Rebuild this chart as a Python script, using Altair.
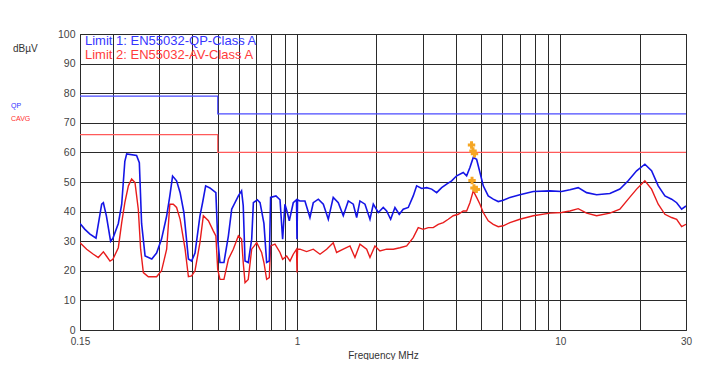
import altair as alt
import pandas as pd

# ---- QP trace (blue) ----
qp_f = [0.150, 0.1566, 0.1637, 0.1725, 0.1813, 0.184, 0.189, 0.196, 0.200, 0.2097,
        0.216, 0.222, 0.2256, 0.246, 0.252, 0.257, 0.265, 0.281, 0.293, 0.306,
        0.320, 0.329, 0.337, 0.349, 0.360, 0.372, 0.387, 0.398, 0.410, 0.428,
        0.438, 0.450, 0.467, 0.492, 0.500, 0.510, 0.528, 0.549, 0.565, 0.599,
        0.616, 0.625, 0.635, 0.653, 0.673, 0.683, 0.707, 0.724, 0.749, 0.767,
        0.785, 0.794, 0.832, 0.862, 0.882, 0.900, 0.919, 0.935, 0.968, 0.996,
        1.000, 1.005, 1.026, 1.072, 1.12, 1.153, 1.205, 1.259, 1.315, 1.373,
        1.435, 1.499, 1.566, 1.636, 1.685, 1.734, 1.812, 1.893, 1.949, 2.036,
        2.126, 2.190, 2.268, 2.355, 2.445, 2.532, 2.646, 2.763, 2.847, 2.975,
        3.108, 3.246, 3.391, 3.543, 3.70, 3.866, 4.04, 4.278, 4.407, 4.536,
        4.67, 4.809, 4.952, 5.097, 5.323, 5.562, 5.811, 6.07, 6.437, 7.02,
        7.89, 9.13, 10.11, 10.87, 11.69, 12.58, 13.73, 15.42, 16.83, 18.1,
        19.48, 20.94, 22.2, 23.53, 24.95, 26.46, 27.65, 28.88, 30.0]
qp_v = [36, 34, 32.4, 31, 42.5, 43, 38.5, 30, 31, 36,
        42.5, 57, 59.5, 59, 56.5, 36, 25, 24, 26, 30.7,
        38.5, 45.3, 52, 50.4, 46.4, 39.7, 24, 23.3, 26, 38.5,
        43, 48.7, 48, 46.4, 30.7, 22.8, 22.8, 31.8, 40.8, 45.3,
        47, 42, 23.3, 22.8, 30.7, 43, 44, 43, 36, 22.8,
        23.3, 44.8, 45.3, 44, 30.7, 42.5, 39.7, 36.9, 43, 44,
        30.7, 44, 43.6, 43.6, 38, 43, 44.2, 42.5, 37.4, 44.8,
        43, 38.6, 43.6, 42.5, 38, 43.6, 42.5, 37.4, 42.5, 39.7,
        41.4, 40.2, 37.4, 41.4, 39.1, 40.8, 41.4, 45.3, 48.7, 47.8,
        48.1, 47.6, 46.4, 48.1, 49.3, 50.4, 52.1, 53.2, 52.1, 54.9,
        58.3, 57.7, 53.2, 48.7, 45.3, 44.2, 43.4, 43.8, 44.8, 45.7,
        46.8, 47, 46.8, 47.4, 48.1, 46.4, 45.7, 46.1, 47.6, 50.4,
        53.8, 56, 53.8, 48.7, 45.3, 44.2, 43, 40.8, 41.9]

# ---- CAVG trace (red) ----
av_f = [0.150, 0.159, 0.1686, 0.176, 0.184, 0.189, 0.195, 0.200, 0.2097, 0.216,
        0.222, 0.229, 0.2356, 0.2426, 0.2497, 0.2549, 0.261, 0.2726, 0.293, 0.306,
        0.320, 0.329, 0.339, 0.349, 0.360, 0.376, 0.387, 0.398, 0.410, 0.428,
        0.441, 0.461, 0.481, 0.492, 0.500, 0.510, 0.528, 0.549, 0.573, 0.599,
        0.616, 0.625, 0.635, 0.653, 0.673, 0.703, 0.734, 0.749, 0.767, 0.785,
        0.794, 0.825, 0.862, 0.882, 0.914, 0.941, 0.968, 0.996, 1.000, 1.005,
        1.026, 1.088, 1.153, 1.223, 1.296, 1.373, 1.414, 1.499, 1.589, 1.660,
        1.734, 1.839, 1.893, 1.977, 2.065, 2.190, 2.321, 2.46, 2.609, 2.763,
        2.887, 3.016, 3.152, 3.291, 3.439, 3.593, 3.753, 3.921, 4.097, 4.278,
        4.407, 4.536, 4.67, 4.809, 4.952, 5.097, 5.323, 5.562, 5.811, 6.07,
        6.437, 7.02, 7.89, 9.13, 10.11, 10.87, 11.69, 12.58, 13.73, 15.42,
        16.83, 18.1, 19.48, 20.94, 22.2, 23.53, 24.95, 26.46, 27.65, 28.88, 30.0]
av_v = [29.5, 27.3, 25.6, 24.5, 26.4, 25, 23.3, 23.9, 27.8, 36.3,
        43, 48.7, 51, 49.8, 40.8, 27.3, 19.4, 18, 18, 20,
        27.3, 42.5, 42.5, 41.4, 37.4, 27.3, 18, 18.3, 20, 29.5,
        38.6, 36.9, 33.5, 31.8, 20.5, 17.1, 17.1, 23.9, 27.3, 31.8,
        30.7, 22.8, 16, 17.1, 27.3, 29.5, 26.2, 22.8, 17.1, 17.7,
        28.4, 29, 26.2, 23.9, 25, 23.3, 25.6, 27.3, 19.4, 27.3,
        27.3, 26.5, 27.3, 25.6, 27.3, 29.5, 26.2, 27.3, 28.4, 24.5,
        29, 27.3, 24.5, 28.4, 26.7, 27.3, 27.3, 27.8, 28.4, 31.2,
        34.6, 34, 34.6, 34.6, 35.7, 36.3, 37.4, 38.6, 39.1, 40.2,
        40.2, 43, 47, 44.8, 42.5, 39.7, 36.9, 35.7, 34.9, 35.2,
        36.3, 37.4, 38.6, 39.5, 39.7, 40.2, 41, 39.5, 38.6, 39.5,
        40.8, 44.2, 47.6, 50.4, 47.6, 42.5, 39.1, 38, 37.4, 34.9, 35.7]

# ---- Limit lines ----
lim_qp_f = [0.15, 0.5, 0.5, 30]
lim_qp_v = [79, 79, 73, 73]
lim_av_f = [0.15, 0.5, 0.5, 30]
lim_av_v = [66, 66, 60, 60]

# ---- Peak markers ----
mk_f = [4.60, 4.66, 4.72, 4.62, 4.70, 4.80]
mk_v = [62.5, 60.5, 59.5, 50.5, 48.0, 47.5]

# ---- Axis ticks ----
x_grid = [0.15, 0.2, 0.3, 0.4, 0.5, 0.6, 0.7, 0.8, 0.9, 1, 2, 3, 4, 5, 6, 7, 8, 9, 10, 20, 30]
x_labels = [0.15, 1, 10, 30]
y_ticks = list(range(0, 101, 10))

FONT = "Liberation Sans"

traces = pd.concat([
    pd.DataFrame({"f": lim_qp_f, "v": lim_qp_v, "s": "L1", "w": 1.2, "i": range(4)}),
    pd.DataFrame({"f": lim_av_f, "v": lim_av_v, "s": "L2", "w": 1.2, "i": range(4)}),
    pd.DataFrame({"f": av_f, "v": av_v, "s": "AVG", "w": 1.4, "i": range(len(av_f))}),
    pd.DataFrame({"f": qp_f, "v": qp_v, "s": "QP", "w": 1.6, "i": range(len(qp_f))}),
])
markers = pd.DataFrame({"f": mk_f, "v": mk_v})

label_test = " || ".join(f"datum.value == {v}" for v in x_labels)

x_enc = alt.X("f:Q", scale=alt.Scale(type="log", domain=[0.15, 30], nice=False),
              axis=alt.Axis(values=x_grid, labelExpr=f"({label_test}) ? datum.label : ''",
                            format="~g", ticks=False, domain=False, grid=True,
                            gridColor="#2a2a2a", gridOpacity=1, gridWidth=1,
                            labelFont=FONT, labelFontSize=10, labelColor="#444444",
                            labelPadding=6, title="Frequency MHz", titleFont=FONT,
                            titleFontSize=10, titleFontWeight="normal", titleColor="#333333",
                            titlePadding=4, labelFlush=False))
y_enc = alt.Y("v:Q", scale=alt.Scale(domain=[0, 100], nice=False),
              axis=alt.Axis(values=y_ticks, ticks=False, domain=False, grid=True,
                            gridColor="#2a2a2a", gridOpacity=1, gridWidth=1,
                            labelFont=FONT, labelFontSize=10.5, labelColor="#444444",
                            labelPadding=5, title=None))

line_layer = alt.Chart(traces).mark_line(clip=True).encode(
    x=x_enc, y=y_enc, order="i:Q", detail="s:N",
    color=alt.Color("s:N", scale=alt.Scale(domain=["L1", "L2", "QP", "AVG"],
                                           range=["#4b4bff", "#ff5a5a", "#1515e6", "#e81c1c"]),
                    legend=None, sort=None),
    strokeWidth=alt.StrokeWidth("w:Q", scale=None, legend=None),
)
mk_layer = alt.Chart(markers).mark_point(shape="cross", filled=True, size=55, color="#f5a623", opacity=1).encode(
    x=x_enc, y=y_enc)

def txt(s, x, y, color, size, align="left"):
    return alt.Chart(pd.DataFrame({"t": [s]})).mark_text(
        font=FONT, fontSize=size, color=color, align=align, baseline="middle").encode(
        text="t:N", x=alt.value(x), y=alt.value(y))

texts = [
    txt("Limit 1: EN55032-QP-Class A", 5, 7, "#3636ff", 13),
    txt("Limit 2: EN55032-AV-Class A", 5, 20.5, "#ff3b3b", 13),
    txt("dBµV", -67, 15, "#333333", 10),
    txt("QP", -69, 72, "#3030ff", 7),
    txt("CAVG", -69, 85, "#ff3030", 7),
]
top_rule = alt.Chart(pd.DataFrame({"a": [0]})).mark_rule(color="#b0b0b0", strokeWidth=1.5).encode(
    x=alt.value(-72), x2=alt.value(614), y=alt.value(-27))

chart = alt.layer(line_layer, mk_layer, *texts, top_rule).properties(
    width=606, height=296,
    autosize=alt.AutoSizeParams(type="none"),
    padding={"left": 72, "top": 26, "right": 8, "bottom": 30},
    background="white",
).configure_view(stroke="#222222", strokeWidth=1)

chart.save("out.html", embed_options={"renderer": "svg", "actions": False})
